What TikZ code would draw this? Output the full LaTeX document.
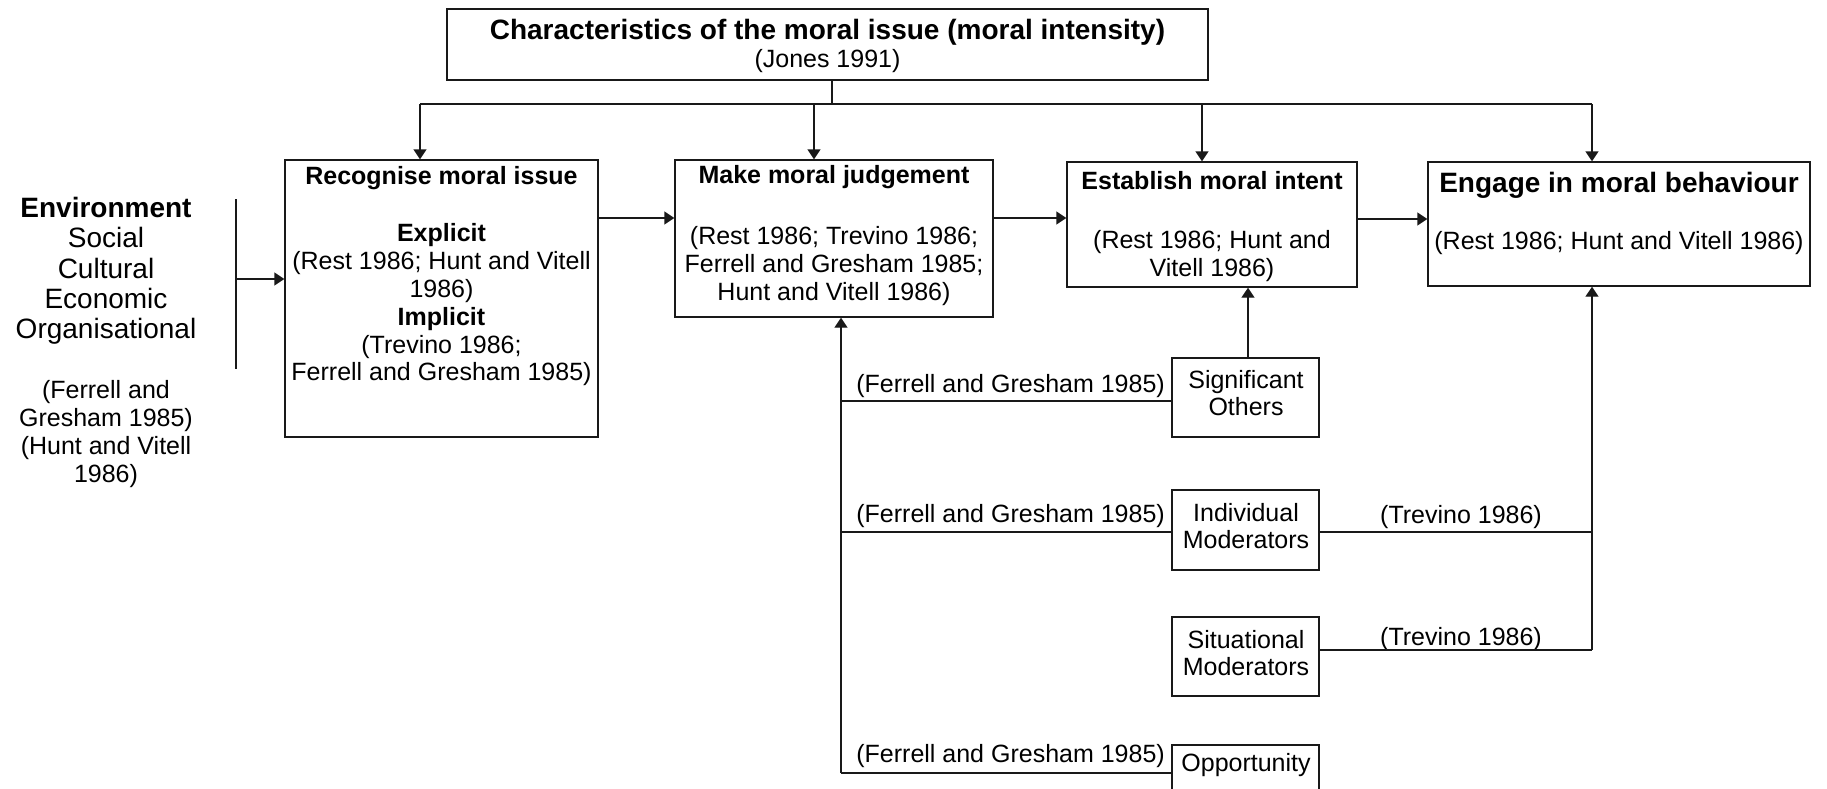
\documentclass[tikz,border=0pt]{standalone}
\usepackage{fontspec}
\setmainfont{Liberation Sans}
\usetikzlibrary{arrows.meta}
\begin{document}
\begin{tikzpicture}[x=1pt,y=-1pt,
  box/.style={draw=black!90, line width=1.4pt, rectangle, inner sep=0pt},
  lbl/.style={font=\fontsize{25}{27.8}\selectfont, align=center, inner sep=0pt},
  hd/.style={font=\bfseries\fontsize{25}{27.8}\selectfont, align=center, inner sep=0pt},
  bighd/.style={font=\bfseries\fontsize{28}{30.3}\selectfont, align=center, inner sep=0pt},
  envl/.style={font=\fontsize{28}{30.3}\selectfont, align=center, inner sep=0pt},
  conn/.style={draw=black!90, line width=1.4pt},
  arr/.style={conn, -{Triangle[length=10pt,width=13pt]}}]
\useasboundingbox (0,0) rectangle (1827,788);
\clip (0,0) rectangle (1827,788);

% boxes
\node[box, minimum width=761pt, minimum height=71pt] (top) at (827.5,44.5) {};
\node[box, minimum width=313pt, minimum height=277pt] (b1) at (441.5,298.5) {};
\node[box, minimum width=318pt, minimum height=157pt] (b2) at (834,238.5) {};
\node[box, minimum width=290pt, minimum height=125pt] (b3) at (1212,224.5) {};
\node[box, minimum width=382pt, minimum height=124pt] (b4) at (1619,224) {};
\node[box, minimum width=147pt, minimum height=79pt] (so) at (1245.5,397.5) {};
\node[box, minimum width=147pt, minimum height=80pt] (im) at (1245.5,530) {};
\node[box, minimum width=147pt, minimum height=79pt] (sm) at (1245.5,656.5) {};
\node[box, minimum width=147pt, minimum height=70pt] (op) at (1245.5,780) {};

% texts
\node[bighd] (topT) at (827.5,32) {Characteristics of the moral issue (moral intensity)};
\node[lbl] (jones) at (827.5,61) {(Jones 1991)};
\node[hd] (b1h) at (441.5,178) {Recognise moral issue};
\node[lbl] (b1t) at (441.5,305) {\textbf{Explicit}\\(Rest 1986; Hunt and Vitell\\1986)\\\textbf{Implicit}\\(Trevino 1986;\\Ferrell and Gresham 1985)};
\node[hd] (b2h) at (834,177) {Make moral judgement};
\node[lbl] (b2t) at (834,266) {(Rest 1986; Trevino 1986;\\Ferrell and Gresham 1985;\\Hunt and Vitell 1986)};
\node[hd] (b3h) at (1212,181) {Establish moral intent};
\node[lbl] (b3t) at (1212,256) {(Rest 1986; Hunt and\\Vitell 1986)};
\node[bighd] (b4h) at (1619,185) {Engage in moral behaviour};
\node[lbl] (b4t) at (1619,243) {(Rest 1986; Hunt and Vitell 1986)};
\node[envl] (env) at (106,271) {\textbf{Environment}\\Social\\Cultural\\Economic\\Organisational};
\node[lbl] (envc) at (106,434) {(Ferrell and\\Gresham 1985)\\(Hunt and Vitell\\1986)};
\node[lbl] (sot) at (1246,393) {Significant\\Others};
\node[lbl] (imt) at (1246,526) {Individual\\Moderators};
\node[lbl] (smt) at (1246,653) {Situational\\Moderators};
\node[lbl] (opt) at (1246,765) {Opportunity};
\node[lbl, anchor=east] (fg1) at (1165,386) {(Ferrell and Gresham 1985)};
\node[lbl, anchor=east] (fg2) at (1165,516) {(Ferrell and Gresham 1985)};
\node[lbl, anchor=east] (fg3) at (1165,756) {(Ferrell and Gresham 1985)};
\node[lbl] (tr1) at (1461,517) {(Trevino 1986)};
\node[lbl] (tr2) at (1461,639) {(Trevino 1986)};

% top distribution
\coordinate (h1) at (420,104);
\coordinate (h2) at (814,104);
\coordinate (h3) at (1202,104);
\coordinate (h4) at (1592,104);
\draw[conn] (top.south -| 832,0) -- (832,104);
\draw[conn] (h1) -- (h4);
\draw[arr] (h1) -- (h1 |- b1.north);
\draw[arr] (h2) -- (h2 |- b2.north);
\draw[arr] (h3) -- (h3 |- b3.north);
\draw[arr] (h4) -- (h4 |- b4.north);

% main flow
\draw[arr] (b1.east |- 0,218) -- (b2.west |- 0,218);
\draw[arr] (b2.east |- 0,218) -- (b3.west |- 0,218);
\draw[arr] (b3.east |- 0,219) -- (b4.west |- 0,219);

% environment
\coordinate (e1) at (236,199);
\coordinate (e2) at (236,369);
\coordinate (e3) at (236,279);
\draw[conn] (e1) -- (e2);
\draw[arr] (e3) -- (e3 -| b1.west);

% feedback left
\coordinate (fb) at (841,773);
\draw[arr] (fb) -- (fb |- b2.south);
\draw[conn] (so.west |- 0,401) -- (841,401);
\draw[conn] (im.west |- 0,532) -- (841,532);
\draw[conn] (op.west |- 0,773) -- (fb);

% significant others to intent
\draw[arr] (so.north -| 1248,0) -- (1248,0 |- b3.south);

% right side to behaviour
\coordinate (rb) at (1592,650);
\draw[conn] (im.east |- 0,532) -- (1592,532);
\draw[conn] (sm.east |- 0,650) -- (rb);
\draw[arr] (rb) -- (rb |- b4.south);
\end{tikzpicture}
\end{document}
